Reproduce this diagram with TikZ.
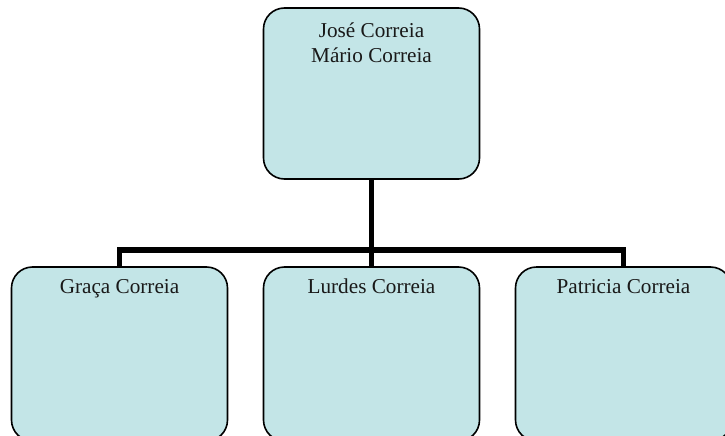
\documentclass[tikz,border=0pt]{standalone}
\usepackage{fontspec}
\setmainfont{Liberation Serif}
\definecolor{boxfill}{RGB}{195,229,231}
\begin{document}
\begin{tikzpicture}[x=1pt,y=-1pt,
  box/.style={draw=black, line width=1.6pt, fill=boxfill, rounded corners=21pt,
    minimum width=216pt, inner sep=0pt},
  lbl/.style={font=\fontsize{21.2}{25}\selectfont, align=center, text=black!90},
  conn/.style={draw=black, line width=5.5pt, line join=miter}]
\useasboundingbox (0,0) rectangle (725,436);
\node[box, minimum height=171pt] (top) at (371.5,93.5) {};
\node[box, minimum height=174pt] (left) at (119.5,354) {};
\node[box, minimum height=174pt] (mid) at (371.5,354) {};
\node[box, minimum height=174pt] (right) at (623.5,354) {};
\node[lbl, anchor=base] (ttop) at ([yshift=-55pt]top.north) {José Correia\\Mário Correia};
\node[lbl, anchor=base] (tleft) at ([yshift=-27pt]left.north) {Graça Correia};
\node[lbl, anchor=base] (tmid) at ([yshift=-27pt]mid.north) {Lurdes Correia};
\node[lbl, anchor=base] (tright) at ([yshift=-27pt]right.north) {Patricia Correia};
\coordinate (j) at (371.5,250);
\coordinate (hl) at (left.north |- j);
\coordinate (hr) at (right.north |- j);
\draw[conn] (top.south) -- (mid.north);
\draw[conn] (left.north) -- (hl) -- (hr) -- (right.north);
\end{tikzpicture}
\end{document}
